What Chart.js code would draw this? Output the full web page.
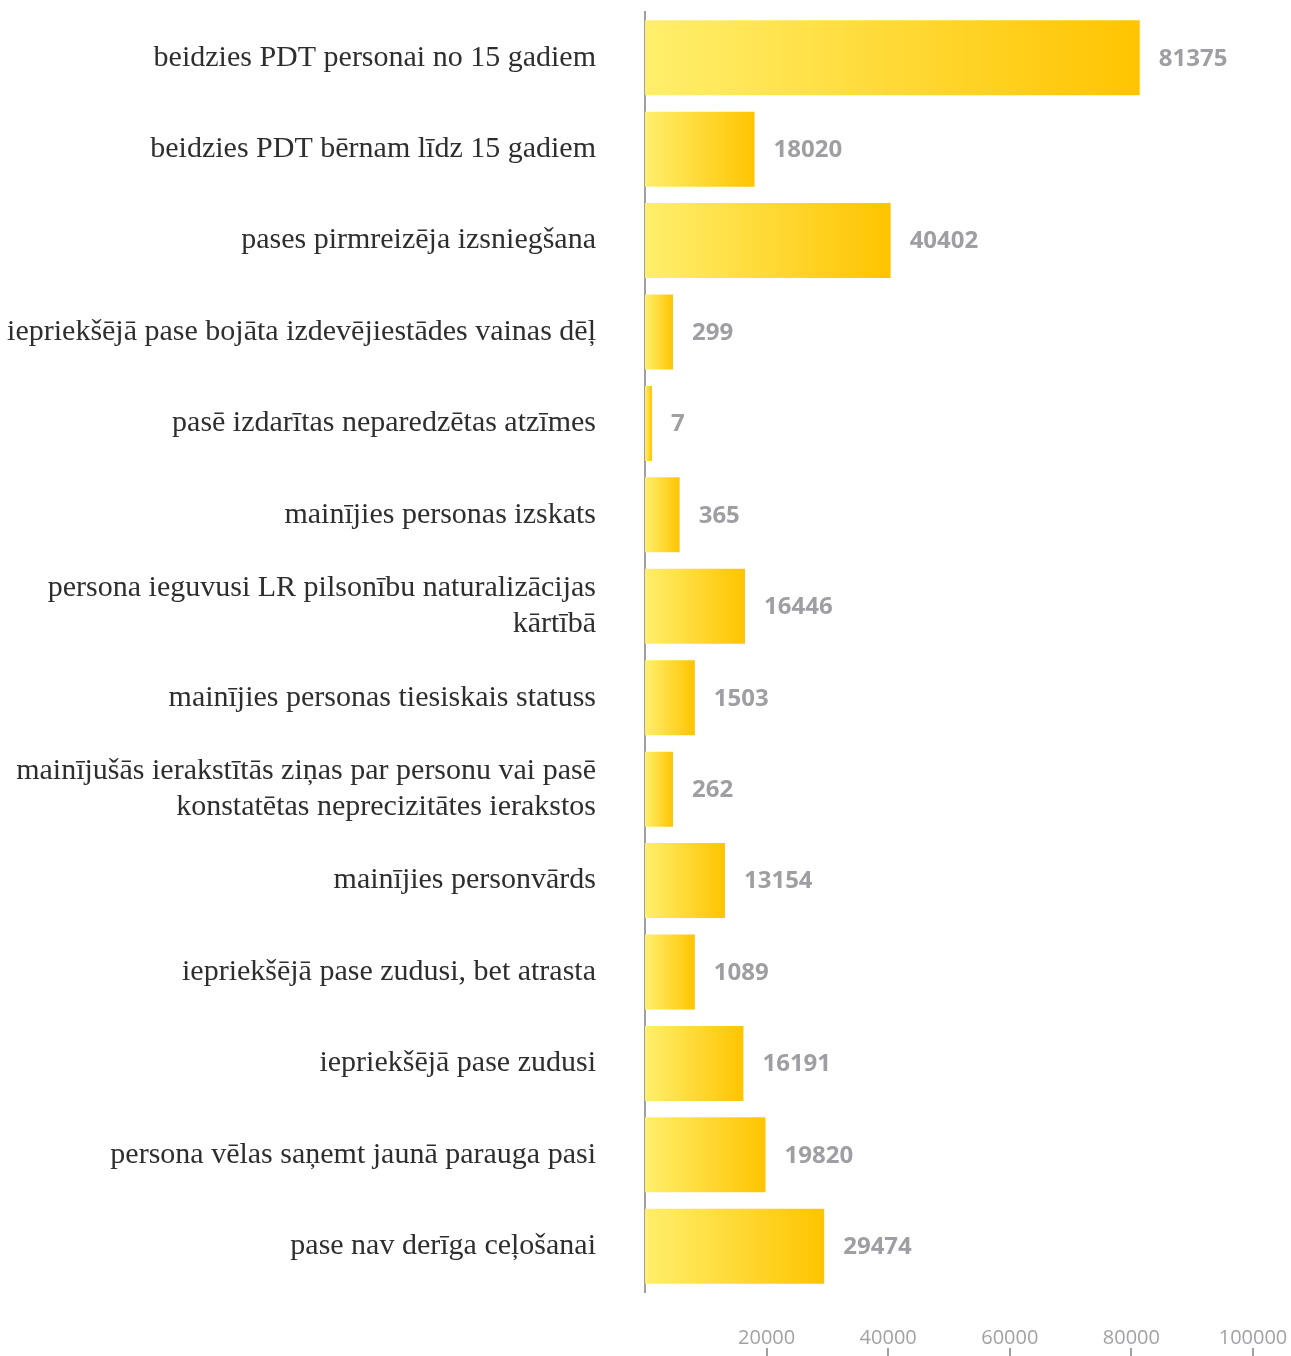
<!DOCTYPE html>
<html>
<head>
<meta charset="utf-8">
<script src="https://cdn.jsdelivr.net/npm/chart.js@4"></script>
<style>
  html, body { margin: 0; padding: 0; background: #ffffff; }
  #wrap { width: 1291px; height: 1356px; }
</style>
</head>
<body>
<div id="wrap"><canvas id="c" width="1291" height="1356"></canvas></div>
<script>
// Category labels (multi-line labels as arrays)
const categories = [
  'beidzies PDT personai no 15 gadiem',
  'beidzies PDT bērnam līdz 15 gadiem',
  'pases pirmreizēja izsniegšana',
  'iepriekšējā pase bojāta izdevējiestādes vainas dēļ',
  'pasē izdarītas neparedzētas atzīmes',
  'mainījies personas izskats',
  ['persona ieguvusi LR pilsonību naturalizācijas', 'kārtībā'],
  'mainījies personas tiesiskais statuss',
  ['mainījušās ierakstītās ziņas par personu vai pasē', 'konstatētas neprecizitātes ierakstos'],
  'mainījies personvārds',
  'iepriekšējā pase zudusi, bet atrasta',
  'iepriekšējā pase zudusi',
  'persona vēlas saņemt jaunā parauga pasi',
  'pase nav derīga ceļošanai'
];
// Printed values (data labels)
const values = [81375, 18020, 40402, 299, 7, 365, 16446, 1503, 262, 13154, 1089, 16191, 19820, 29474];
// Bar lengths as drawn in the picture (small values are drawn longer than their numbers)
const barValues = [81375, 18020, 40402, 4600, 1150, 5700, 16446, 8200, 4600, 13154, 8200, 16191, 19820, 29474];
// Axis ticks
const xMin = 0, xMax = 100000, xStep = 20000;

const valueLabelPlugin = {
  id: 'valueLabels',
  afterDatasetsDraw(chart) {
    const c = chart.ctx;
    const meta = chart.getDatasetMeta(0);
    c.save();
    c.font = 'bold 24px "Open Sans"';
    c.fillStyle = '#9e9ea3';
    c.textAlign = 'left';
    c.textBaseline = 'middle';
    meta.data.forEach((bar, i) => {
      c.fillText(String(values[i]), bar.x + 19, bar.y + 1);
    });
    c.restore();
  }
};

const dropZero = (s) => { s.ticks = s.ticks.filter(t => t.value !== 0); };

new Chart(document.getElementById('c'), {
  type: 'bar',
  data: {
    labels: categories,
    datasets: [{
      data: barValues,
      borderWidth: 0,
      categoryPercentage: 1,
      barPercentage: 0.82,
      backgroundColor: (ctx) => {
        const chart = ctx.chart;
        const sx = chart.scales && chart.scales.x;
        if (!chart.chartArea || !sx || ctx.type !== 'data') return '#FFD633';
        const x0 = sx.getPixelForValue(0);
        const x1 = sx.getPixelForValue(barValues[ctx.dataIndex]);
        const g = chart.ctx.createLinearGradient(x0, 0, Math.max(x1, x0 + 1), 0);
        g.addColorStop(0, 'rgb(255,239,108)');
        g.addColorStop(1, 'rgb(255,196,0)');
        return g;
      }
    }]
  },
  options: {
    indexAxis: 'y',
    responsive: false,
    animation: false,
    devicePixelRatio: 1,
    layout: { padding: { top: 12, right: 38, bottom: 0, left: 0 } },
    plugins: {
      legend: { display: false },
      tooltip: { enabled: false }
    },
    scales: {
      y: {
        position: 'left',
        grid: { display: false, drawTicks: false },
        border: { display: true, color: '#9e9ea4', width: 2 },
        ticks: {
          padding: 49,
          color: '#2e2e2e',
          font: { family: '"Liberation Serif", "DejaVu Serif", serif', size: 30, lineHeight: 1.2 },
          autoSkip: false
        },
        afterFit: (s) => { s.width = 645; s.paddingTop = 0; s.paddingBottom = 0; }
      },
      x: {
        position: 'bottom',
        min: xMin,
        max: xMax,
        grid: { display: false, drawTicks: false },
        border: { display: false },
        ticks: {
          stepSize: xStep,
          padding: 34,
          color: '#a2a2a6',
          font: { family: '"Open Sans", sans-serif', size: 20 },
          maxRotation: 0,
          callback: (v) => String(v)
        },
        afterBuildTicks: dropZero,
        afterFit: (s) => { s.height = 56; s.paddingLeft = 0; s.paddingRight = 0; }
      },
      x2: {
        position: 'bottom',
        axis: 'x',
        min: xMin,
        max: xMax,
        grid: { display: true, drawOnChartArea: false, drawTicks: true, tickLength: 8, color: '#9e9ea4', lineWidth: 2 },
        border: { display: false },
        ticks: { stepSize: xStep, display: false },
        afterBuildTicks: dropZero,
        afterFit: (s) => { s.height = 8; s.paddingLeft = 0; s.paddingRight = 0; }
      }
    }
  },
  plugins: [valueLabelPlugin]
});
</script>
</body>
</html>
